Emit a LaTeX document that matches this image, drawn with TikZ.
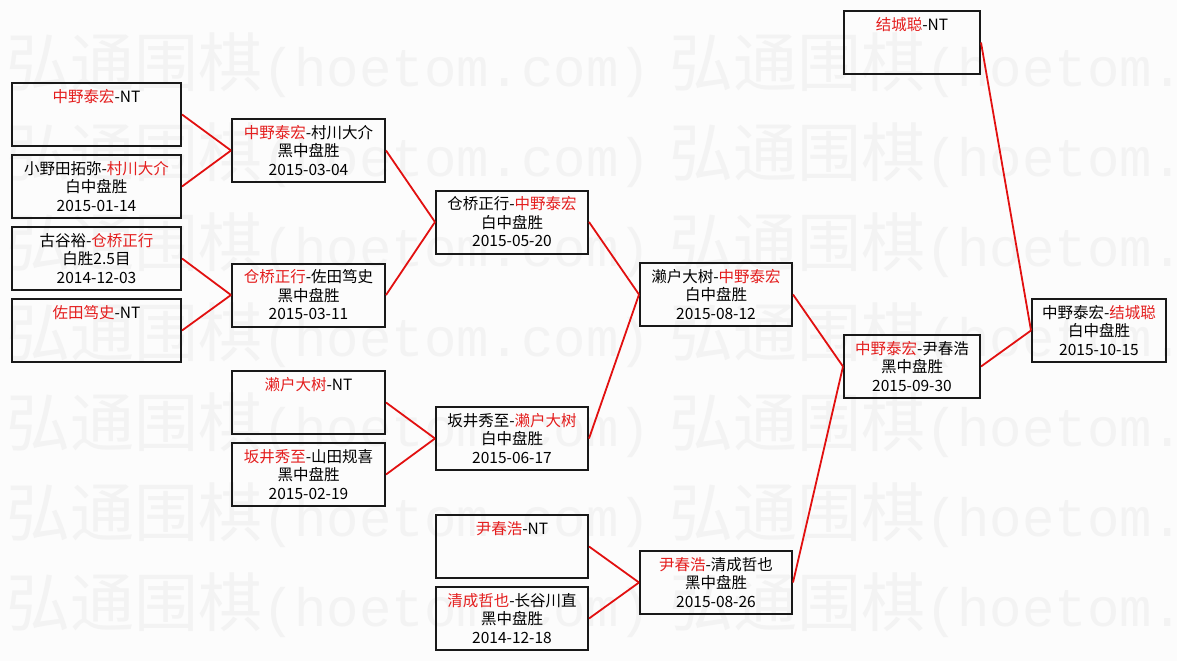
\documentclass[tikz,border=0pt]{standalone}
\usepackage{fontspec}
\newfontfamily\cjk{Noto Sans CJK SC}
\newfontfamily\wmmono{Liberation Mono}
\usetikzlibrary{backgrounds}
\definecolor{win}{RGB}{228,30,30}
\definecolor{link}{RGB}{226,16,16}
\definecolor{paper}{RGB}{252,252,252}
\definecolor{mark}{RGB}{243,243,243}
\newcommand{\winner}[1]{\textcolor{win}{#1}}

\begin{document}
\begin{tikzpicture}[x=1pt, y=-1pt, line width=2pt,
    game/.style={draw=black!90, minimum width=#1, minimum height=63pt, inner sep=0pt, align=center, font=\cjk\fontsize{15.5}{18.5}\selectfont},
    conn/.style={draw=link, line width=1.8pt},
    watermark/.style={anchor=west, inner sep=0pt, text=mark}
  ]
  % column centres and widths
  \def\colA{96.5}   \def\wA{169pt}
  \def\colB{308.5}  \def\wB{153pt}
  \def\colC{512}    \def\wC{152pt}
  \def\colD{716}    \def\wD{152pt}
  \def\colE{912}    \def\wE{136pt}
  \def\colF{1099}   \def\wF{134pt}

  \path [fill=paper] (0,0) rectangle (1177,661);

  % hoetom watermark
  \begin{scope}
    \clip (0,0) rectangle (1177,661);
    \foreach \row in {0,...,6} {
      \foreach \xs in {5,668} {
        \node [watermark] at (\xs, 65+90*\row) {\cjk\fontsize{64}{64}\selectfont 弘通围棋\wmmono\fontsize{54}{54}\selectfont(hoetom.com)};
      }
    }
  \end{scope}

  % first round
  \node [game=\wA] (a1) at (\colA,114.5) {\winner{中野泰宏}-NT\\~\\~};
  \node [game=\wA] (a2) at (\colA,186.5) {小野田拓弥-\winner{村川大介}\\白中盘胜\\2015-01-14};
  \node [game=\wA] (a3) at (\colA,258.5) {古谷裕-\winner{仓桥正行}\\白胜2.5目\\2014-12-03};
  \node [game=\wA] (a4) at (\colA,330.5) {\winner{佐田笃史}-NT\\~\\~};

  % second round
  \node [game=\wB] (b1) at (\colB,150.5) {\winner{中野泰宏}-村川大介\\黑中盘胜\\2015-03-04};
  \node [game=\wB] (b2) at (\colB,295) {\winner{仓桥正行}-佐田笃史\\黑中盘胜\\2015-03-11};
  \node [game=\wB] (b3) at (\colB,402.5) {\winner{濑户大树}-NT\\~\\~};
  \node [game=\wB] (b4) at (\colB,474.5) {\winner{坂井秀至}-山田规喜\\黑中盘胜\\2015-02-19};

  % third round
  \node [game=\wC] (c1) at (\colC,222) {仓桥正行-\winner{中野泰宏}\\白中盘胜\\2015-05-20};
  \node [game=\wC] (c2) at (\colC,438.5) {坂井秀至-\winner{濑户大树}\\白中盘胜\\2015-06-17};
  \node [game=\wC] (c3) at (\colC,546.5) {\winner{尹春浩}-NT\\~\\~};
  \node [game=\wC] (c4) at (\colC,618.5) {\winner{清成哲也}-长谷川直\\黑中盘胜\\2014-12-18};

  % fourth round
  \node [game=\wD] (d1) at (\colD,294.5) {濑户大树-\winner{中野泰宏}\\白中盘胜\\2015-08-12};
  \node [game=\wD] (d2) at (\colD,582.5) {\winner{尹春浩}-清成哲也\\黑中盘胜\\2015-08-26};

  % semi final and final
  \node [game=\wE] (e1) at (\colE,42.5) {\winner{结城聪}-NT\\~\\~};
  \node [game=\wE] (e2) at (\colE,366.5) {\winner{中野泰宏}-尹春浩\\黑中盘胜\\2015-09-30};
  \node [game=\wF] (f) at (\colF,330.5) {中野泰宏-\winner{结城聪}\\白中盘胜\\2015-10-15};

  \begin{scope}[every path/.style={conn}]
    \path (a1.east) -- (b1.west);
    \path (a2.east) -- (b1.west);
    \path (a3.east) -- (b2.west);
    \path (a4.east) -- (b2.west);
    \path (b1.east) -- (c1.west);
    \path (b2.east) -- (c1.west);
    \path (b3.east) -- (c2.west);
    \path (b4.east) -- (c2.west);
    \path (c1.east) -- (d1.west);
    \path (c2.east) -- (d1.west);
    \path (c3.east) -- (d2.west);
    \path (c4.east) -- (d2.west);
    \path (d1.east) -- (e2.west);
    \path (d2.east) -- (e2.west);
    \path (e1.east) -- (f.west);
    \path (e2.east) -- (f.west);
  \end{scope}
\end{tikzpicture}
\end{document}
